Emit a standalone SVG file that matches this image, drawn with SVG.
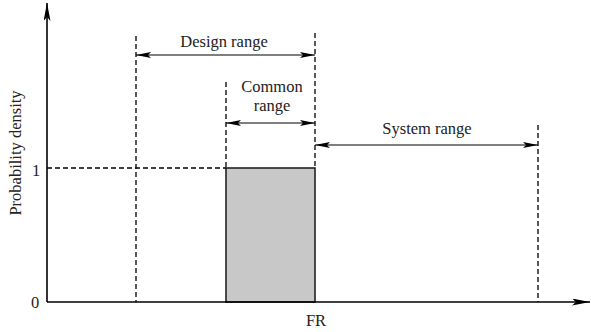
<svg xmlns="http://www.w3.org/2000/svg" width="591" height="332" viewBox="0 0 591 332">
  <defs>
    <marker id="tip" viewBox="0 0 15 6" refX="15" refY="3" markerWidth="15" markerHeight="6" markerUnits="userSpaceOnUse" orient="auto-start-reverse">
      <path d="M0,0 L15,3 L0,6 L3,3 Z" fill="#000"/>
    </marker>
    <marker id="axis-tip" viewBox="0 0 18 7" refX="18" refY="3.5" markerWidth="18" markerHeight="7" markerUnits="userSpaceOnUse" orient="auto">
      <path d="M0,0 L18,3.5 L0,7 L4,3.5 Z" fill="#000"/>
    </marker>
  </defs>
  <style>
    .axis { stroke: #000; stroke-width: 1.6; fill: none; }
    .dash { stroke: #000; stroke-width: 1.3; stroke-dasharray: 5 3; fill: none; }
    .dim { stroke: #000; stroke-width: 1.2; fill: none; }
    text { font-family: "Liberation Serif", "Times New Roman", serif; font-size: 16.5px; fill: #222; }
  </style>
  <rect width="591" height="332" fill="#fff"/>

  <!-- shaded density block -->
  <g id="block">
    <rect x="226" y="168" width="89" height="134" fill="#c8c8c8" stroke="#222" stroke-width="1.6"/>
  </g>

  <!-- range boundaries and reference level -->
  <g id="guides">
    <line class="dash" x1="136" y1="36" x2="136" y2="302"/>
    <line class="dash" x1="226" y1="82" x2="226" y2="168"/>
    <line class="dash" x1="315" y1="33" x2="315" y2="168"/>
    <line class="dash" x1="538" y1="125" x2="538" y2="302"/>
    <line class="dash" x1="47" y1="168" x2="226" y2="168"/>
  </g>

  <!-- axes -->
  <g id="axes">
    <line class="axis" x1="47" y1="302" x2="47" y2="3" marker-end="url(#axis-tip)"/>
    <line class="axis" x1="47" y1="302" x2="590" y2="302" marker-end="url(#axis-tip)"/>
    <text x="15" y="153" text-anchor="middle" transform="rotate(-90 15 153)" dominant-baseline="central">Probability density</text>
    <text x="36" y="176" text-anchor="middle">1</text>
    <text x="35" y="308" text-anchor="middle">0</text>
    <text x="316" y="326" text-anchor="middle">FR</text>
  </g>

  <!-- range dimension arrows -->
  <g id="connectors">
    <line class="dim" x1="136" y1="55" x2="315" y2="55" marker-start="url(#tip)" marker-end="url(#tip)"/>
    <line class="dim" x1="226" y1="123" x2="315" y2="123" marker-start="url(#tip)" marker-end="url(#tip)"/>
    <line class="dim" x1="315" y1="145" x2="538" y2="145" marker-start="url(#tip)" marker-end="url(#tip)"/>
  </g>

  <g id="design-range">
    <text x="224" y="47" text-anchor="middle">Design range</text>
  </g>
  <g id="common-range">
    <text x="272" y="92" text-anchor="middle">Common</text>
    <text x="272" y="111" text-anchor="middle">range</text>
  </g>
  <g id="system-range">
    <text x="427" y="134" text-anchor="middle">System range</text>
  </g>
</svg>
